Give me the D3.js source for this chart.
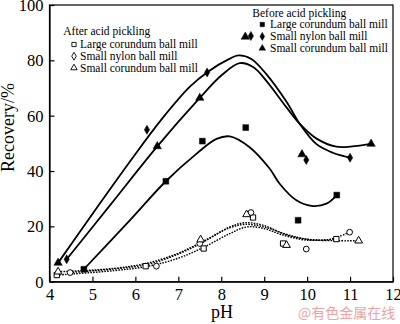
<!DOCTYPE html>
<html>
<head>
<meta charset="utf-8">
<script src="https://cdn.jsdelivr.net/npm/d3@7"></script>
<style>
  html, body { margin: 0; padding: 0; background: #fff; }
  svg { display: block; font-family: "Liberation Serif", "Times New Roman", serif; }
</style>
</head>
<body>
<svg id="chart" width="400" height="324"></svg>
<script>
// Axis ticks
const xTicks = [4, 5, 6, 7, 8, 9, 10, 11, 12];
const yTicks = [0, 20, 40, 60, 80, 100];

// Measured points, before acid pickling (filled markers)
const beforeLarge = [[4.8, 4.5], [6.71, 36.3], [7.56, 50.8], [8.57, 55.7], [9.79, 22.2], [10.69, 31.3]];
const beforeNylon = [[4.4, 8.1], [6.27, 54.9], [7.67, 75.6], [8.69, 88.8], [9.98, 44.0], [11.0, 44.8]];
const beforeSmall = [[4.2, 6.8], [6.51, 48.9], [7.5, 66.4], [8.56, 88.5], [9.88, 46.0], [11.49, 49.8]];

// Measured points, after acid pickling (open markers)
const afterLarge = [[4.17, 2.4], [6.24, 5.6], [7.59, 12.0], [8.74, 23.2], [9.44, 13.8], [10.68, 15.4]];
const afterNylon = [[4.48, 3.3], [6.49, 5.6], [7.5, 13.8], [8.69, 25.0], [9.98, 11.8], [10.99, 17.9]];
const afterSmall = [[4.2, 3.6], [7.52, 15.2], [8.59, 24.3], [9.52, 13.2], [11.2, 14.8]];

// Fitted trend curves, before acid pickling (solid)
const fitBeforeA = [[4.2, 6.8], [5.0, 24.5], [5.9, 44.0], [6.6, 58.5], [7.27, 70.5], [7.7, 76.0], [8.2, 80.6], [8.4, 81.8], [8.7, 80.5], [9.05, 75.0], [9.52, 65.0], [9.83, 57.0], [10.21, 49.8], [10.6, 46.6], [11.0, 44.8]];
const fitBeforeB = [[4.4, 8.1], [5.45, 28.4], [6.51, 48.9], [7.5, 66.4], [8.0, 74.5], [8.43, 79.0], [8.75, 77.5], [9.05, 72.6], [9.52, 63.0], [9.83, 57.0], [10.21, 51.8], [10.68, 48.8], [11.1, 49.0], [11.49, 49.8]];
const fitBeforeC = [[4.8, 4.5], [5.87, 22.2], [6.71, 36.3], [7.42, 46.2], [7.89, 51.6], [8.2, 52.5], [8.66, 48.6], [9.13, 40.8], [9.36, 35.4], [9.75, 29.4], [10.1, 27.4], [10.45, 28.2], [10.69, 31.3]];

// Fitted trend curves, after acid pickling (dotted)
const fitAfterLarge = [[4.17, 2.4], [5.5, 4.0], [6.3, 5.6], [7.0, 8.5], [7.6, 12.5], [8.2, 17.4], [8.6, 19.8], [9.0, 19.2], [9.4, 17.0], [10.0, 15.0], [10.68, 15.4]];
const fitAfterNylon = [[4.48, 3.3], [5.5, 4.6], [6.3, 6.3], [7.0, 10.0], [7.6, 14.5], [8.2, 19.8], [8.55, 21.3], [9.0, 20.3], [9.5, 17.0], [10.0, 15.4], [10.5, 15.2], [10.99, 17.9]];
const fitAfterSmall = [[4.2, 3.6], [5.5, 4.8], [6.3, 6.8], [7.0, 10.3], [7.6, 14.8], [8.2, 19.5], [8.55, 20.7], [9.0, 19.8], [9.5, 17.2], [10.0, 15.3], [10.7, 14.8], [11.2, 14.8]];

const legendBefore = ["Large corundum ball mill", "Small nylon ball mill", "Small corundum ball mill"];
const legendAfter = ["Large corundum ball mill", "Small nylon ball mill", "Small corundum ball mill"];

const serif = '"Liberation Serif", "Times New Roman", serif';
const svg = d3.select("#chart");
const x = d3.scaleLinear().domain([4, 12]).range([49.5, 393]);
const y = d3.scaleLinear().domain([0, 100]).range([281.7, 5]);

// Plot frame
svg.append("rect")
  .attr("x", x(4)).attr("y", y(100))
  .attr("width", x(12) - x(4)).attr("height", y(0) - y(100))
  .attr("fill", "none").attr("stroke", "#000").attr("stroke-width", 1.2);

// Axes with inward ticks
const gx = svg.append("g").attr("transform", `translate(0,${y(0)})`)
  .call(d3.axisBottom(x).tickValues(xTicks).tickSizeInner(-5).tickSizeOuter(0).tickPadding(7).tickFormat(d3.format("d")));
const gy = svg.append("g").attr("transform", `translate(${x(4)},0)`)
  .call(d3.axisLeft(y).tickValues(yTicks).tickSizeInner(-5).tickSizeOuter(0).tickPadding(6).tickFormat(d3.format("d")));
[gx, gy].forEach(g => {
  g.attr("font-family", serif).attr("font-size", 16.5);
  g.select(".domain").attr("stroke", "#000").attr("stroke-width", 1.2);
  g.selectAll(".tick line").attr("stroke", "#000").attr("stroke-width", 1.2);
  g.selectAll(".tick text").attr("fill", "#000");
});
gy.selectAll(".tick text").attr("dy", "0.34em");

// Axis titles
svg.append("text").attr("transform", `translate(13.5,127.5) rotate(-90)`)
  .attr("text-anchor", "middle").style("font-size", "18px").text("Recovery/%");
svg.append("text").attr("x", 222).attr("y", 318)
  .attr("text-anchor", "middle").style("font-size", "18px").text("pH");

// Curves
const line = d3.line().x(d => x(d[0])).y(d => y(d[1])).curve(d3.curveCatmullRom.alpha(0.5));
[fitBeforeA, fitBeforeB, fitBeforeC].forEach(c => {
  svg.append("path").attr("d", line(c)).attr("fill", "none")
    .attr("stroke", "#000").attr("stroke-width", 1.8);
});
[fitAfterLarge, fitAfterNylon, fitAfterSmall].forEach(c => {
  svg.append("path").attr("d", line(c)).attr("fill", "none")
    .attr("stroke", "#000").attr("stroke-width", 1.4).attr("stroke-dasharray", "1.6,1.2");
});

// Markers
function drawMarkers(data, type, size, filled) {
  svg.append("g").selectAll("path").data(data).join("path")
    .attr("transform", d => `translate(${x(d[0])},${y(d[1])})`)
    .attr("d", d3.symbol().type(type).size(size))
    .attr("fill", filled ? "#000" : "#fff")
    .attr("stroke", "#000").attr("stroke-width", filled ? 0.5 : 1);
}
drawMarkers(afterLarge, d3.symbolSquare, 28, false);
drawMarkers(afterNylon, d3.symbolCircle, 26, false);
drawMarkers(afterSmall, d3.symbolTriangle, 26, false);
drawMarkers(beforeLarge, d3.symbolSquare, 34, true);
drawMarkers(beforeNylon, d3.symbolDiamond, 24, true);
drawMarkers(beforeSmall, d3.symbolTriangle, 30, true);

// Legends
function legend(title, labels, tx, ty, mx, lx, ly, step, types, filled) {
  svg.append("text").attr("x", tx).attr("y", ty).style("font-size", "11.5px").text(title);
  labels.forEach((t, i) => {
    const yy = ly + i * step;
    svg.append("path")
      .attr("transform", `translate(${mx},${yy - 3.8})`)
      .attr("d", d3.symbol().type(types[i]).size(filled ? 20 : 18))
      .attr("fill", filled ? "#000" : "#fff")
      .attr("stroke", "#000").attr("stroke-width", filled ? 0.4 : 0.9);
    svg.append("text").attr("x", lx).attr("y", yy).style("font-size", "11.5px").text(t);
  });
}
legend("After acid pickling", legendAfter, 63.3, 35, 74, 80, 48.3, 11.7,
  [d3.symbolSquare, d3.symbolDiamond, d3.symbolTriangle], false);
legend("Before acid pickling", legendBefore, 252.3, 16.7, 262.3, 270, 28.3, 11.9,
  [d3.symbolSquare, d3.symbolDiamond, d3.symbolTriangle], true);

// Source mark
svg.append("text").attr("x", 298).attr("y", 318)
  .style("font-family", '"Noto Sans CJK SC", sans-serif').style("font-size", "14px")
  .attr("fill", "#eea3a3").text("@有色金属在线");
</script>
</body>
</html>
